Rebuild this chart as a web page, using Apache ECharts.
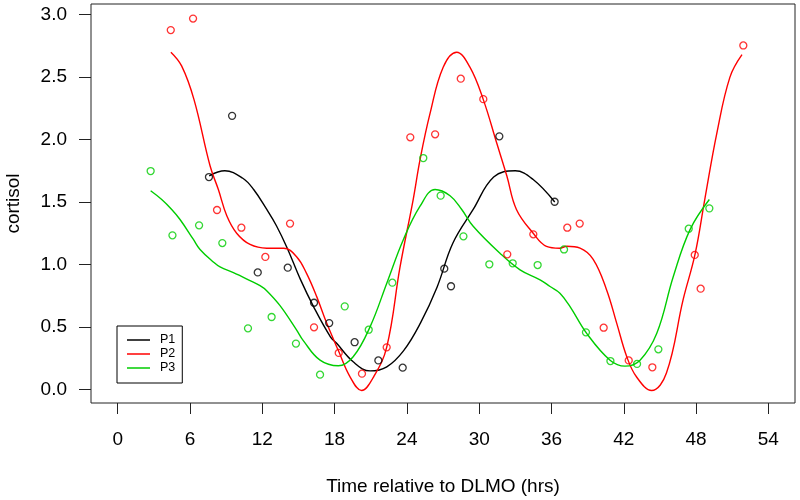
<!DOCTYPE html>
<html>
<head>
<meta charset="utf-8">
<script src="https://cdn.jsdelivr.net/npm/echarts@6/dist/echarts.min.js"></script>
<style>html,body{margin:0;padding:0;background:#fff}#c{width:800px;height:500px}</style>
</head>
<body>
<div id="c"></div>
<script>
// ---- data ----
const xTicks = [0, 6, 12, 18, 24, 30, 36, 42, 48, 54];
const yTicks = [0, 0.5, 1, 1.5, 2, 2.5, 3];
const seriesNames = ['P1', 'P2', 'P3'];

// observed points (hours, cortisol)
const p1PointT = [7.57, 9.49, 11.62, 14.11, 16.29, 17.55, 19.66, 21.63, 23.65, 27.10, 27.66, 31.67, 36.26];
const p1PointV = [1.70, 2.19, 0.936, 0.974, 0.693, 0.53, 0.377, 0.231, 0.173, 0.966, 0.825, 2.026, 1.502];

const p2PointT = [4.40, 6.25, 8.24, 10.26, 12.25, 14.30, 16.29, 18.34, 20.27, 22.32, 24.28, 26.34, 28.47, 30.34, 32.33, 34.49, 37.31, 38.34, 40.33, 42.41, 44.37, 47.89, 48.38, 51.92];
const p2PointV = [2.877, 2.969, 1.436, 1.294, 1.060, 1.327, 0.496, 0.291, 0.125, 0.336, 2.018, 2.042, 2.488, 2.324, 1.081, 1.241, 1.294, 1.327, 0.493, 0.231, 0.176, 1.076, 0.806, 2.754];

const p3PointT = [2.73, 4.54, 6.75, 8.68, 10.81, 12.77, 14.79, 16.79, 18.84, 20.83, 22.79, 25.36, 26.80, 28.69, 30.84, 32.78, 34.85, 37.04, 38.86, 40.89, 43.10, 44.87, 47.39, 49.10];
const p3PointV = [1.748, 1.233, 1.313, 1.171, 0.488, 0.579, 0.366, 0.117, 0.664, 0.477, 0.854, 1.852, 1.551, 1.225, 1.001, 1.009, 0.995, 1.12, 0.456, 0.226, 0.203, 0.32, 1.286, 1.449];

// fitted curves
const p1CurveT = [7.59, 8.89, 10.38, 11.28, 12.37, 13.17, 14.07, 15.16, 16.26, 17.65, 18.15, 19.54, 20.94, 22.33, 23.73, 25.12, 26.51, 27.81, 29.50, 31.20, 32.99, 34.48, 36.27];
const p1CurveV = [1.71, 1.75, 1.69, 1.60, 1.44, 1.31, 1.13, 0.88, 0.66, 0.42, 0.37, 0.22, 0.147, 0.18, 0.31, 0.53, 0.82, 1.17, 1.44, 1.70, 1.75, 1.68, 1.50];

const p2CurveT = [4.41, 5.30, 6.33, 7.66, 8.35, 9.05, 9.87, 10.98, 12.37, 13.77, 14.86, 15.66, 16.52, 17.34, 18.31, 19.28, 20.24, 21.24, 22.33, 23.43, 24.52, 25.09, 25.92, 27.01, 28.13, 29.23, 30.34, 31.46, 32.29, 33.09, 34.48, 35.58, 36.67, 37.27, 38.37, 39.46, 40.56, 41.41, 42.25, 43.05, 44.31, 45.54, 46.93, 47.91, 48.72, 49.72, 50.81, 51.81];
const p2CurveV = [2.70, 2.59, 2.32, 1.79, 1.60, 1.39, 1.25, 1.16, 1.13, 1.13, 1.06, 0.93, 0.74, 0.53, 0.31, 0.10, -0.01, 0.10, 0.34, 0.98, 1.52, 1.84, 2.21, 2.58, 2.70, 2.58, 2.32, 1.97, 1.71, 1.44, 1.25, 1.145, 1.13, 1.145, 1.13, 1.04, 0.80, 0.53, 0.26, 0.10, -0.01, 0.13, 0.72, 1.08, 1.52, 2.05, 2.50, 2.68];

const p3CurveT = [2.73, 3.65, 4.48, 5.17, 6.28, 6.83, 7.93, 8.49, 9.60, 10.15, 10.98, 11.81, 12.36, 13.47, 14.85, 15.40, 16.79, 18.31, 19.54, 20.94, 22.33, 23.71, 25.09, 26.34, 27.58, 28.55, 29.50, 31.72, 33.39, 35.05, 35.88, 36.70, 37.54, 38.92, 40.86, 42.10, 43.35, 44.74, 46.11, 47.50, 49.10];
const p3CurveV = [1.59, 1.52, 1.44, 1.36, 1.20, 1.12, 1.02, 0.98, 0.935, 0.91, 0.87, 0.83, 0.79, 0.67, 0.474, 0.39, 0.233, 0.188, 0.26, 0.50, 0.85, 1.20, 1.466, 1.60, 1.55, 1.44, 1.306, 1.09, 0.957, 0.877, 0.823, 0.77, 0.662, 0.448, 0.233, 0.185, 0.233, 0.448, 0.903, 1.279, 1.52];

const colors = ['#000000', '#FF0000', '#00CD00'];

// ---- build chart ----
const zip = (a, b) => a.map((t, i) => [t, b[i]]);
const curves = [[p1CurveT, p1CurveV], [p2CurveT, p2CurveV], [p3CurveT, p3CurveV]];
const points = [[p1PointT, p1PointV], [p2PointT, p2PointV], [p3PointT, p3PointV]];
const FONT = '"Liberation Sans", Arial, Helvetica, sans-serif';

const series = [];
seriesNames.forEach((name, i) => {
  series.push({
    name: name,
    type: 'line',
    data: zip(curves[i][0], curves[i][1]),
    smooth: 0.4,
    showSymbol: false,
    symbol: 'none',
    color: colors[i],
    lineStyle: { color: colors[i], width: 1.4 },
    z: 3
  });
  series.push({
    name: name + ' obs',
    type: 'scatter',
    data: zip(points[i][0], points[i][1]),
    symbol: 'circle',
    symbolSize: 7,
    itemStyle: { color: 'rgba(255,255,255,0)', borderColor: colors[i], borderWidth: 1.3 },
    z: 4
  });
});

const chart = echarts.init(document.getElementById('c'), null, { renderer: 'canvas' });
chart.setOption({
  animation: false,
  backgroundColor: '#fff',
  textStyle: { fontFamily: FONT },
  grid: { left: 91, right: 5, top: 4, bottom: 97, show: true, borderColor: '#222', borderWidth: 1, backgroundColor: 'transparent', containLabel: false, outerBoundsMode: 'none' },
  legend: {
    data: seriesNames,
    orient: 'vertical',
    left: 117,
    top: 326,
    icon: 'rect',
    itemWidth: 23,
    itemHeight: 1.5,
    itemGap: 0,
    padding: [7, 7, 8, 10],
    backgroundColor: '#fff',
    borderColor: '#000',
    borderWidth: 1,
    borderRadius: 0,
    selectedMode: false,
    textStyle: { fontFamily: FONT, fontSize: 12.5, color: '#000', lineHeight: 14, padding: [0, 0, 0, 5] }
  },
  xAxis: {
    type: 'value',
    position: 'bottom',
    min: -2.22,
    max: 56.21,
    name: 'Time relative to DLMO (hrs)',
    nameLocation: 'middle',
    nameGap: 74,
    nameTextStyle: { fontFamily: FONT, fontSize: 19, color: '#000' },
    axisLine: { show: false, onZero: false },
    splitLine: { show: false },
    axisTick: { show: true, inside: false, length: 11, customValues: xTicks, lineStyle: { color: '#222', width: 1 } },
    axisLabel: { customValues: xTicks, margin: 27, fontFamily: FONT, fontSize: 19, color: '#000' }
  },
  yAxis: {
    type: 'value',
    position: 'left',
    min: -0.11,
    max: 3.086,
    name: 'cortisol',
    nameLocation: 'middle',
    nameGap: 68,
    nameRotate: 90,
    nameTextStyle: { fontFamily: FONT, fontSize: 19, color: '#000' },
    axisLine: { show: false, onZero: false },
    splitLine: { show: false },
    axisTick: { show: true, inside: false, length: 12, customValues: yTicks, lineStyle: { color: '#222', width: 1 } },
    axisLabel: { customValues: yTicks, margin: 24, fontFamily: FONT, fontSize: 19, color: '#000', formatter: v => v.toFixed(1) }
  },
  series: series
});
</script>
</body>
</html>
